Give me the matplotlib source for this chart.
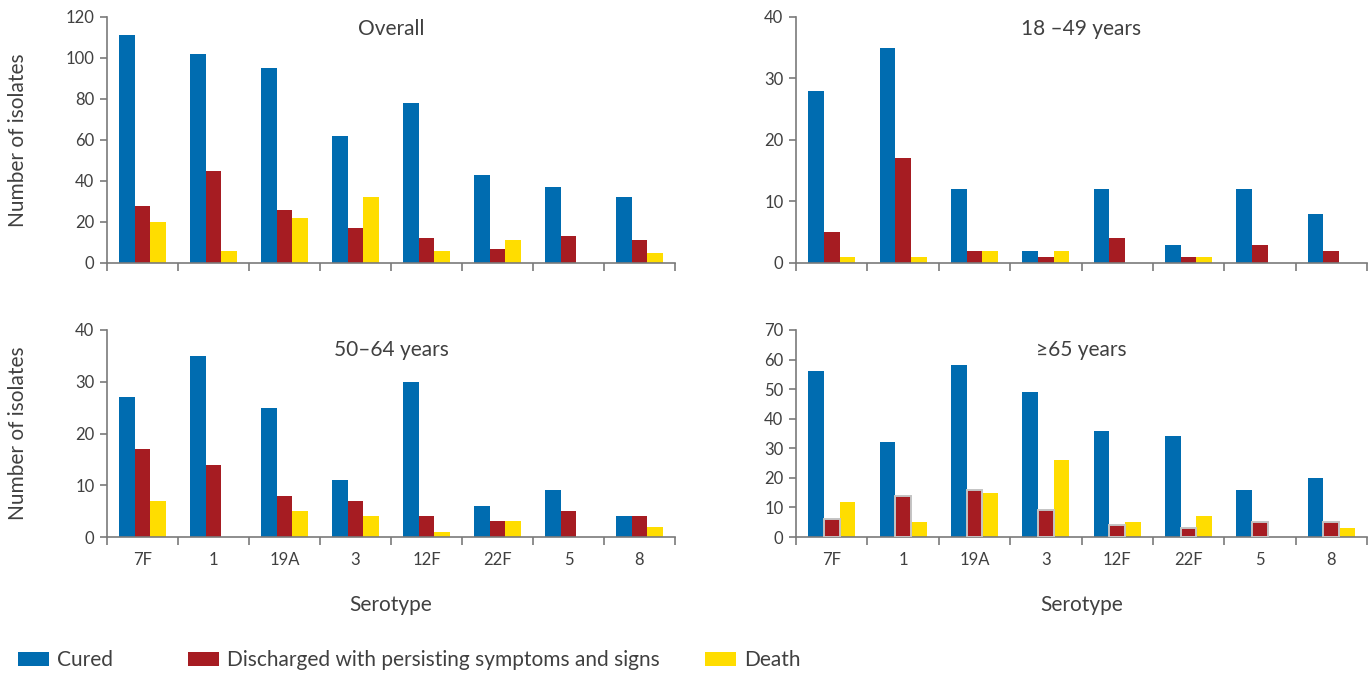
import numpy as np
import matplotlib
matplotlib.use('Agg')
import matplotlib.pyplot as plt
from matplotlib.patches import Patch

plt.rcParams['font.family'] = ['Lato', 'DejaVu Sans']

serotypes = ['7F', '1', '19A', '3', '12F', '22F', '5', '8']

# Overall
overall_cured = [111, 102, 95, 62, 78, 43, 37, 32]
overall_disch = [28, 45, 26, 17, 12, 7, 13, 11]
overall_death = [20, 6, 22, 32, 6, 11, 0, 5]
# 18-49 years
young_cured = [28, 35, 12, 2, 12, 3, 12, 8]
young_disch = [5, 17, 2, 1, 4, 1, 3, 2]
young_death = [1, 1, 2, 2, 0, 1, 0, 0]
# 50-64 years
mid_cured = [27, 35, 25, 11, 30, 6, 9, 4]
mid_disch = [17, 14, 8, 7, 4, 3, 5, 4]
mid_death = [7, 0, 5, 4, 1, 3, 0, 2]
# >=65 years
old_cured = [56, 32, 58, 49, 36, 34, 16, 20]
old_disch = [6, 14, 16, 9, 4, 3, 5, 5]
old_death = [12, 5, 15, 26, 5, 7, 0, 3]

series_names = ['Cured', 'Discharged with persisting symptoms and signs', 'Death']
colors = ['#006cb0', '#a61c22', '#ffdd00']
text_color = '#404040'
axis_color = '#7a7a7a'

W, H = 1371, 673
fig = plt.figure(figsize=(W / 100, H / 100), dpi=100)

def px_axes(x0, x1, ytop, ybot):
    return fig.add_axes([x0 / W, 1 - ybot / H, (x1 - x0) / W, (ybot - ytop) / H])

# axes, title, data, ymax, step, bottom row, grey outline on red bars, title centre (px)
panels = [
    (px_axes(107, 675, 17, 263), 'Overall', (overall_cured, overall_disch, overall_death), 120, 20, False, False, 29),
    (px_axes(796, 1367, 17, 263), '18 \u201349 years', (young_cured, young_disch, young_death), 40, 10, False, False, 29),
    (px_axes(107, 675, 330, 537), '50\u201364 years', (mid_cured, mid_disch, mid_death), 40, 10, True, False, 350),
    (px_axes(796, 1367, 330, 537), '\u226565 years', (old_cured, old_disch, old_death), 70, 10, True, True, 350),
]

x = np.arange(len(serotypes))
bw = 0.22

for ax, title, data, ymax, ystep, bottom, outline, ty in panels:
    for i, vals in enumerate(data):
        if outline and i == 1:
            ax.bar(x + (i - 1) * bw, vals, bw, color=colors[i],
                   edgecolor='#c4c4c4', linewidth=1.4, zorder=3)
        else:
            ax.bar(x + (i - 1) * bw, vals, bw, color=colors[i], zorder=2)
    ax.set_xlim(-0.5, len(serotypes) - 0.5)
    ax.set_ylim(0, ymax)
    ax.set_yticks(np.arange(0, ymax + 1, ystep))
    for s in ['top', 'right']:
        ax.spines[s].set_visible(False)
    for s in ['left', 'bottom']:
        ax.spines[s].set_color(axis_color)
        ax.spines[s].set_linewidth(1.2)
    ax.tick_params(axis='y', colors=axis_color, labelcolor=text_color,
                   labelsize=12, length=5, width=1.2, pad=4)
    # group boundaries as tick marks, labels at group centres
    ax.set_xticks(np.arange(-0.5, len(serotypes), 1.0), minor=True)
    ax.set_xticks(x)
    ax.tick_params(axis='x', which='minor', length=6, width=1.2, colors=axis_color)
    ax.tick_params(axis='x', which='major', length=0, pad=11,
                   labelsize=12, labelcolor=text_color)
    if bottom:
        ax.set_xticklabels(serotypes)
        ax.set_xlabel('Serotype', fontsize=15, color=text_color, labelpad=19)
    else:
        ax.set_xticklabels([])
    fig.text(ax.get_position().x0 + ax.get_position().width / 2, 1 - ty / H, title,
             ha='center', va='center', fontsize=15, color=text_color)

for yc in [(17 + 263) / 2, (330 + 537) / 2]:
    fig.text(18 / W, 1 - yc / H, 'Number of isolates', rotation=90,
             ha='center', va='center', fontsize=15, color=text_color)

# legend entries placed one by one, as in the source layout
leg_x = [10, 180, 697]
for name, c, lx in zip(series_names, colors, leg_x):
    fig.legend(handles=[Patch(facecolor=c)], labels=[name],
               loc='center left', bbox_to_anchor=(lx / W, 1 - 660 / H),
               frameon=False, fontsize=15, handlelength=1.45, handleheight=0.65,
               handletextpad=0.4, borderaxespad=0, labelcolor=text_color)

fig.savefig('out.png', dpi=100)
